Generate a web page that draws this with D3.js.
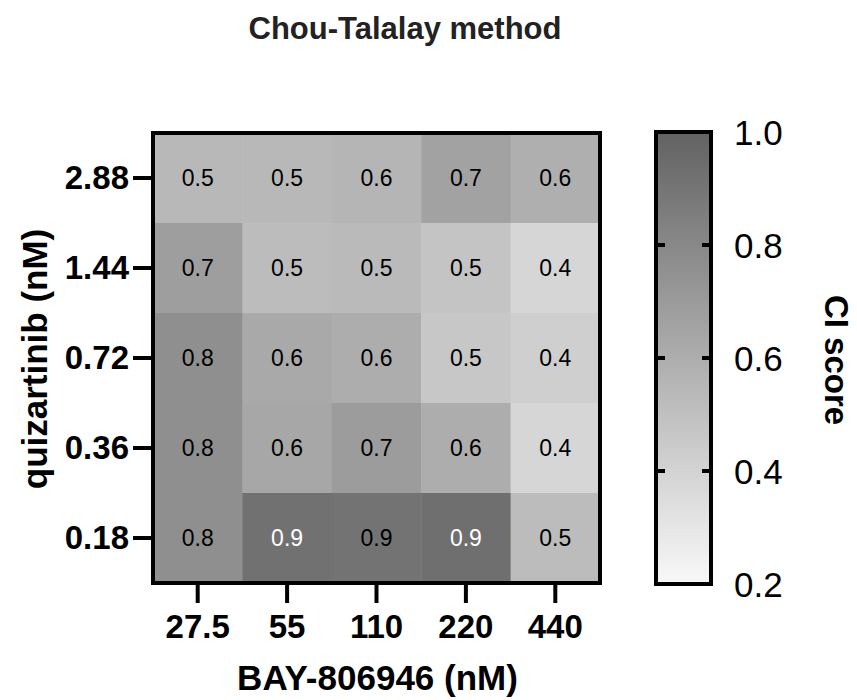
<!DOCTYPE html>
<html>
<head>
<meta charset="utf-8">
<script src="https://cdn.jsdelivr.net/npm/d3@7"></script>
<style>
  html, body { margin: 0; padding: 0; background: #fff; }
  svg { display: block; font-family: "Liberation Sans", Arial, Helvetica, sans-serif; }
</style>
</head>
<body>
<svg id="chart" width="857" height="700"></svg>
<script>
// ---- data ----
const bayDoses = ["27.5", "55", "110", "220", "440"];          // x categories (nM)
const quizDoses = ["2.88", "1.44", "0.72", "0.36", "0.18"];     // y categories, top to bottom (nM)
const ciRow288 = [0.54, 0.54, 0.56, 0.66, 0.59];
const ciRow144 = [0.68, 0.52, 0.53, 0.48, 0.38];
const ciRow072 = [0.76, 0.62, 0.60, 0.46, 0.42];
const ciRow036 = [0.76, 0.63, 0.69, 0.60, 0.38];
const ciRow018 = [0.76, 0.92, 0.91, 0.93, 0.52];
const ciRows = [ciRow288, ciRow144, ciRow072, ciRow036, ciRow018];
const colorbarTicks = [0.2, 0.4, 0.6, 0.8, 1.0];
const colorDomain = [0.2, 1.0];

const cells = [];
quizDoses.forEach((q, i) => bayDoses.forEach((b, j) => cells.push({ q, b, v: ciRows[i][j] })));

// ---- layout ----
const svg = d3.select("#chart");
const plot = { x0: 153, x1: 600, y0: 133, y1: 583 };
const cb = { x0: 656, x1: 711, y0: 132, y1: 584 };

const x = d3.scaleBand().domain(bayDoses).range([plot.x0, plot.x1]).padding(0);
const y = d3.scaleBand().domain(quizDoses).range([plot.y0, plot.y1]).padding(0);
const color = d3.scaleLinear().domain(colorDomain).range(["#f8f8f8", "#626262"]).clamp(true);

// title
svg.append("text")
  .attr("x", 405).attr("y", 39)
  .attr("text-anchor", "middle")
  .attr("font-weight", "bold").attr("font-size", 31)
  .attr("fill", "#222")
  .text("Chou-Talalay method");

// cells
svg.append("g").selectAll("rect")
  .data(cells).join("rect")
  .attr("x", d => x(d.b)).attr("y", d => y(d.q))
  .attr("width", x.bandwidth() + 0.5).attr("height", y.bandwidth() + 0.5)
  .attr("fill", d => color(d.v));

// cell labels
const fmt = d3.format(".1f");
svg.append("g").selectAll("text")
  .data(cells).join("text")
  .attr("x", d => x(d.b) + x.bandwidth() / 2)
  .attr("y", d => y(d.q) + y.bandwidth() / 2)
  .attr("dy", "0.36em")
  .attr("text-anchor", "middle")
  .attr("font-size", 23)
  .attr("fill", d => d.v > 0.915 ? "#fff" : "#000")
  .text(d => fmt(d.v));

// frame
svg.append("rect")
  .attr("x", plot.x0).attr("y", plot.y0)
  .attr("width", plot.x1 - plot.x0).attr("height", plot.y1 - plot.y0)
  .attr("fill", "none").attr("stroke", "#000").attr("stroke-width", 4);

// x axis
const xAxis = svg.append("g")
  .attr("transform", `translate(0,${plot.y1 + 2})`)
  .call(d3.axisBottom(x).tickSize(18).tickPadding(12));
xAxis.select(".domain").remove();
xAxis.selectAll(".tick line").attr("stroke", "#000").attr("stroke-width", 4);
xAxis.selectAll(".tick text")
  .attr("font-size", 33).attr("font-weight", "bold").attr("fill", "#000")
  .attr("font-family", "'Liberation Sans', Arial, sans-serif");

// y axis
const yAxis = svg.append("g")
  .attr("transform", `translate(${plot.x0 - 2},0)`)
  .call(d3.axisLeft(y).tickSize(18).tickPadding(4));
yAxis.select(".domain").remove();
yAxis.selectAll(".tick line").attr("stroke", "#000").attr("stroke-width", 4);
yAxis.selectAll(".tick text")
  .attr("font-size", 33).attr("font-weight", "bold").attr("fill", "#000")
  .attr("font-family", "'Liberation Sans', Arial, sans-serif");

// axis titles
svg.append("text")
  .attr("x", (plot.x0 + plot.x1) / 2 + 1).attr("y", 690)
  .attr("text-anchor", "middle")
  .attr("font-weight", "bold").attr("font-size", 35)
  .text("BAY-806946 (nM)");

svg.append("text")
  .attr("transform", `translate(47,${(plot.y0 + plot.y1) / 2 + 1}) rotate(-90)`)
  .attr("text-anchor", "middle")
  .attr("font-weight", "bold").attr("font-size", 35)
  .text("quizartinib (nM)");

// colorbar
const cbScale = d3.scaleLinear().domain(colorDomain).range([cb.y1, cb.y0]);
const defs = svg.append("defs");
const grad = defs.append("linearGradient")
  .attr("id", "cbgrad").attr("x1", 0).attr("y1", 1).attr("x2", 0).attr("y2", 0);
grad.selectAll("stop")
  .data(colorbarTicks).join("stop")
  .attr("offset", d => (d - colorDomain[0]) / (colorDomain[1] - colorDomain[0]))
  .attr("stop-color", d => color(d));

svg.append("rect")
  .attr("x", cb.x0).attr("y", cb.y0)
  .attr("width", cb.x1 - cb.x0).attr("height", cb.y1 - cb.y0)
  .attr("fill", "url(#cbgrad)")
  .attr("stroke", "#000").attr("stroke-width", 4);

const inner = colorbarTicks.filter(t => t > colorDomain[0] && t < colorDomain[1]);
svg.append("g").selectAll("line.l")
  .data(inner).join("line")
  .attr("x1", cb.x0).attr("x2", cb.x0 + 9)
  .attr("y1", d => cbScale(d)).attr("y2", d => cbScale(d))
  .attr("stroke", "#000").attr("stroke-width", 4);
svg.append("g").selectAll("line.r")
  .data(inner).join("line")
  .attr("x1", cb.x1 - 9).attr("x2", cb.x1)
  .attr("y1", d => cbScale(d)).attr("y2", d => cbScale(d))
  .attr("stroke", "#000").attr("stroke-width", 4);

svg.append("g").selectAll("text")
  .data(colorbarTicks).join("text")
  .attr("x", 734)
  .attr("y", d => cbScale(d))
  .attr("dy", "0.36em")
  .attr("font-size", 35)
  .attr("fill", "#000")
  .text(d => d3.format(".1f")(d));

svg.append("text")
  .attr("transform", `translate(825,360) rotate(90)`)
  .attr("text-anchor", "middle")
  .attr("font-weight", "bold").attr("font-size", 33)
  .text("CI score");
</script>
</body>
</html>
